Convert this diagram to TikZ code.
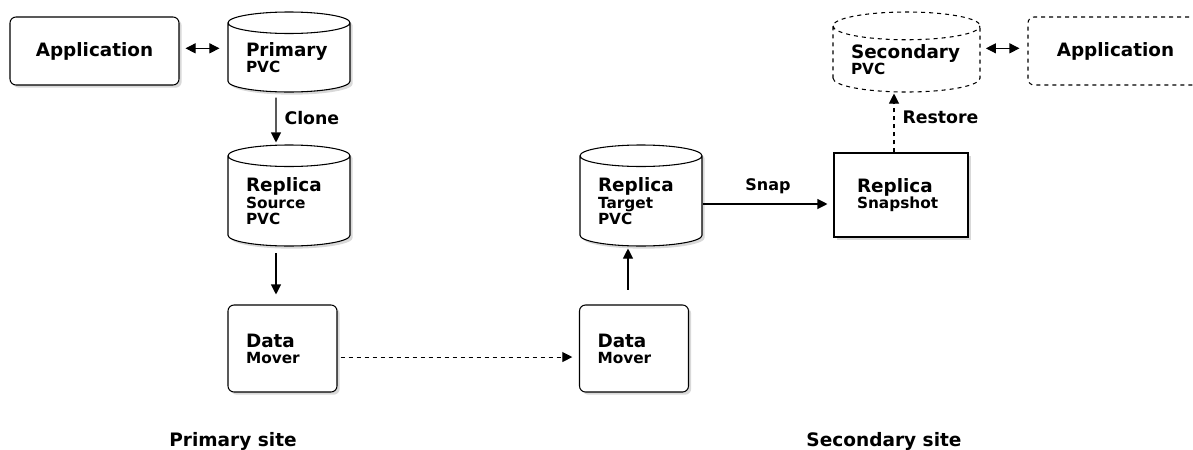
\documentclass[tikz,border=0pt]{standalone}
\usepackage{fontspec}
\setmainfont{DejaVu Sans}
\usetikzlibrary{shapes.geometric,arrows.meta,shadows}
\newcommand\ttl{\fontsize{13.8}{12.5}\selectfont}
\newcommand\sub{\fontsize{11.5}{12.5}\selectfont}
\tikzset{
  base/.style={draw, line width=0.8pt, fill=white, font=\bfseries, inner sep=0pt},
  shade/.style={drop shadow={shadow xshift=2pt, shadow yshift=-2pt, opacity=0.3}},
  ghost/.style={dash pattern=on 3pt off 3pt},
  appbox/.style={base, rectangle, rounded corners=4.5pt, minimum height=51pt},
  mover/.style={base, shade, rectangle, rounded corners=4.5pt, minimum width=81.75pt, minimum height=65.25pt, text width=54.75pt, align=left},
  snapbox/.style={base, shade, rectangle, minimum width=100.5pt, minimum height=63pt, text width=66pt, align=left},
  cyl/.style={base, cylinder, shape border rotate=90, shape aspect=0.25, align=left, anchor=shape center},
  link/.style={line width=0.8pt, -{Triangle[length=7.5pt, width=7.5pt]}},
  both/.style={line width=0.8pt, {Triangle[length=7.5pt, width=7.5pt]}-{Triangle[length=7.5pt, width=7.5pt]}},
  lbl/.style={font=\bfseries\fontsize{13}{15}\selectfont, inner sep=0pt},
  site/.style={font=\bfseries\fontsize{13.9}{16}\selectfont, inner sep=0pt, anchor=base},
}
\begin{document}
\begin{tikzpicture}[x=0.75pt, y=-0.75pt]
  \useasboundingbox (0,0) rectangle (1193,450);

  % primary site
  \node[appbox, shade, minimum width=126.75pt] (app1) at (94.5,51) {\ttl Application};
  \node[cyl, shade, minimum width=91.5pt, minimum height=60pt, text width=64.5pt] (pvc1) at (289,52) {\ttl Primary\\\sub PVC};
  \node[cyl, shade, minimum width=91.5pt, minimum height=75.75pt, text width=64.5pt] (src) at (289,195.5) {\ttl Replica\\\sub Source\\PVC};
  \node[mover] (dm1) at (282.5,348.5) {\ttl Data\\\sub Mover};

  % secondary site
  \node[mover] (dm2) at (634,348.5) {\ttl Data\\\sub Mover};
  \node[cyl, shade, minimum width=91.5pt, minimum height=75.75pt, text width=64.5pt] (tgt) at (641,195.5) {\ttl Replica\\\sub Target\\PVC};
  \node[snapbox] (snap) at (901,195) {\ttl Replica\\\sub Snapshot};
  \node[cyl, ghost, minimum width=110.25pt, minimum height=60pt, text width=83.25pt] (pvc2) at (906.5,52) {\ttl Secondary\\\sub PVC};
  \node[appbox, ghost, minimum width=131.25pt] (app2) at (1115.5,51) {\ttl Application};

  \node[site] (site1) at (233,446.5) {Primary site};
  \node[site] (site2) at (884,446.5) {Secondary site};

  % connectors
  \draw[both, shorten <=4.5pt, shorten >=6pt] ([yshift=2pt]app1.east) -- ([yshift=2pt]app1.east -| pvc1.west);
  \draw[both, shorten <=4pt, shorten >=6pt] ([yshift=2pt]app2.west -| pvc2.east) -- ([yshift=2pt]app2.west);
  \draw[link, shorten <=3.75pt, shorten >=1.5pt] ([xshift=-9.75pt]pvc1.south) -- ([xshift=-9.75pt]src.north)
    node[lbl, midway, right=6pt] (clone) {Clone};
  \draw[link, shorten <=5pt, shorten >=7.5pt] ([xshift=-9.75pt]src.south) -- ([xshift=-9.75pt]src.south |- dm1.north);
  \draw[link, ghost, shorten <=2.25pt, shorten >=5pt] ([yshift=-6.4pt]dm1.east) -- ([yshift=-6.4pt]dm1.east -| dm2.west);
  \draw[link, shorten <=11pt, shorten >=1.5pt] ([xshift=-9.75pt]tgt.south |- dm2.north) -- ([xshift=-9.75pt]tgt.south);
  \draw[link, shorten >=4.5pt] ([yshift=-6.75pt]snap.west -| tgt.east) -- ([yshift=-6.75pt]snap.west)
    node[lbl, midway, above=7pt, font=\bfseries\fontsize{12}{14}\selectfont] (snaplbl) {Snap};
  \draw[link, ghost, shorten >=0.75pt] ([xshift=-5.25pt]snap.north) -- ([xshift=-5.25pt]snap.north |- pvc2.south)
    node[lbl, pos=0.58, right=6pt] (restore) {Restore};
\end{tikzpicture}
\end{document}
